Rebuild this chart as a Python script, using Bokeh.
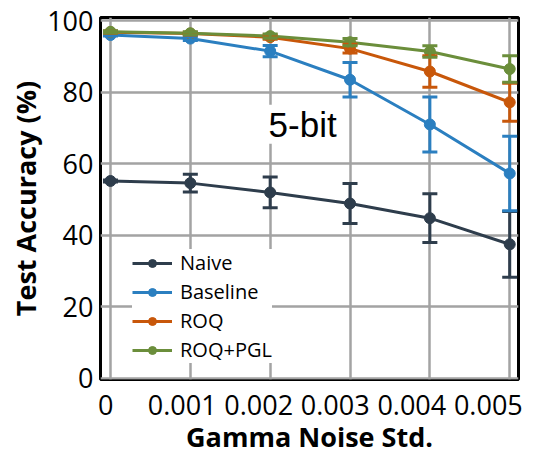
from bokeh.plotting import figure
from bokeh.models import (Range1d, FixedTicker, Whisker, TeeHead, ColumnDataSource,
                          Legend, LegendItem, Label, LinearAxis)
from bokeh.embed import file_html
from bokeh.resources import INLINE

noise = [0.0, 0.001, 0.002, 0.003, 0.004, 0.005]
tick_labels = ["0", "0.001", "0.002", "0.003", "0.004", "0.005"]
y_ticks = [0, 20, 40, 60, 80, 100]

names = ["Naive", "Baseline", "ROQ", "ROQ+PGL"]
colors = ["#2e3d4c", "#2b7fc0", "#c8570a", "#6b8e3b"]

naive_acc = [55.2, 54.6, 52.0, 48.9, 44.8, 37.5]
naive_err = [0.3, 2.5, 4.3, 5.6, 6.8, 9.2]
baseline_acc = [96.0, 95.0, 91.5, 83.5, 71.0, 57.3]
baseline_err = [0.3, 0.5, 1.6, 4.8, 7.7, 10.4]
roq_acc = [96.8, 96.4, 95.4, 92.2, 85.8, 77.2]
roq_err = [0.3, 0.4, 0.6, 1.2, 4.4, 5.3]
pgl_acc = [96.9, 96.5, 95.7, 94.0, 91.4, 86.5]
pgl_err = [0.3, 0.4, 0.6, 1.0, 1.6, 3.7]

series = [(naive_acc, naive_err), (baseline_acc, baseline_err),
          (roq_acc, roq_err), (pgl_acc, pgl_err)]

p = figure(width=544, height=457, output_backend="svg", toolbar_location=None,
           x_range=Range1d(-0.000125, 0.00511), y_range=Range1d(-0.3, 100.9),
           min_border_left=100, min_border_right=26, min_border_top=17,
           min_border_bottom=78)

p.outline_line_color = "black"
p.outline_line_width = 3
p.background_fill_color = "white"
p.border_fill_color = "white"

p.xgrid.grid_line_color = "#a3a3a3"
p.ygrid.grid_line_color = "#a3a3a3"
p.xgrid.grid_line_width = 2.5
p.ygrid.grid_line_width = 2.5
p.xgrid.ticker = FixedTicker(ticks=noise)
p.ygrid.ticker = FixedTicker(ticks=y_ticks)

# the original's tick labels sit on a slightly compressed spacing
p.xaxis[0].visible = False
p.extra_x_ranges = {"lab": Range1d(-0.0673, 5.394)}
lab_axis = LinearAxis(x_range_name="lab",
                      ticker=FixedTicker(ticks=list(range(len(tick_labels)))),
                      major_label_overrides={i: l for i, l in enumerate(tick_labels)})
p.add_layout(lab_axis, "below")

p.yaxis.ticker = FixedTicker(ticks=y_ticks)

for ax in (lab_axis, p.yaxis[0]):
    ax.axis_line_color = None
    ax.major_tick_line_color = None
    ax.minor_tick_line_color = None
    ax.major_label_text_font = "Open Sans"
    ax.major_label_text_font_size = "27px"
    ax.major_label_text_color = "black"
    ax.axis_label_text_font = "Open Sans"
    ax.axis_label_text_font_size = "27px"
    ax.axis_label_text_font_style = "bold"
    ax.axis_label_text_color = "black"

lab_axis.axis_label = "Gamma Noise Std."
p.yaxis.axis_label = "Test Accuracy (%)"
lab_axis.major_label_standoff = 9
lab_axis.axis_label_standoff = 0
p.yaxis.axis_label_standoff = 0
p.yaxis.major_label_standoff = 1

items = []
for name, color, (acc, err) in zip(names, colors, series):
    src = ColumnDataSource(dict(
        x=noise, y=acc,
        upper=[a + e for a, e in zip(acc, err)],
        lower=[a - e for a, e in zip(acc, err)]))
    w = Whisker(source=src, base="x", upper="upper", lower="lower",
                line_color=color, line_width=3, level="glyph",
                upper_head=TeeHead(size=15, line_color=color, line_width=3),
                lower_head=TeeHead(size=15, line_color=color, line_width=3))
    p.add_layout(w)
    p.line("x", "y", source=src, line_color=color, line_width=3)
    p.scatter("x", "y", source=src, size=11, fill_color=color, line_color=color)
    # legend-only glyphs (placed outside the visible range)
    lr = p.line([-1.0, -1.0], [-1.0, -1.0], line_color=color, line_width=3)
    sr = p.scatter([-1.0], [-1.0], size=8, fill_color=color, line_color=color)
    items.append(LegendItem(label=name, renderers=[lr, sr]))

legend = Legend(items=items, location=(32, 16), border_line_color=None,
                background_fill_color="white", background_fill_alpha=1.0,
                label_text_font="Open Sans", label_text_font_size="20px",
                label_text_color="black", glyph_width=40, glyph_height=20,
                label_height=20, spacing=2, padding=4, margin=0,
                label_standoff=8)
p.add_layout(legend, "center")

lbl = Label(x=0.00198, y=65.6, text="5-bit", text_font="Liberation Sans",
            text_font_size="35px", text_color="black",
            background_fill_color="white", background_fill_alpha=1.0)
p.add_layout(lbl)

open("out.html", "w").write(file_html(p, INLINE))
